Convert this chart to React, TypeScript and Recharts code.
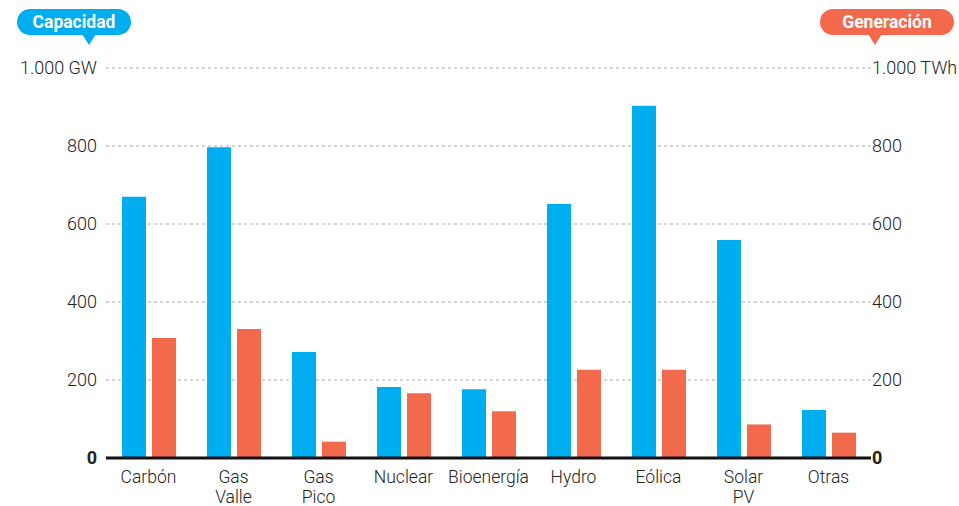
import { BarChart, Bar, XAxis, YAxis, CartesianGrid, ReferenceLine } from 'recharts';

const categories = ['Carbón', 'Gas Valle', 'Gas Pico', 'Nuclear', 'Bioenergía', 'Hydro', 'Eólica', 'Solar PV', 'Otras'];
const capacityGW = [670, 797, 272, 182, 176, 651, 903, 559, 123];
const generationTWh = [308, 331, 42, 166, 120, 226, 226, 86, 65];
const yTicks = [0, 200, 400, 600, 800, 1000];

const BLUE = '#00aeef';
const ORANGE = '#f2694b';
const TEXT = '#222';
const FONT = 'Roboto, "Noto Sans", sans-serif';

const data = categories.map((name, i) => ({
  name,
  capacity: capacityGW[i],
  generation: generationTWh[i],
}));

function formatTick(v: number, unit: string) {
  if (v === 1000) return `1.000 ${unit}`;
  return String(v);
}

function LeftTick(props: any) {
  const { x, y, payload } = props;
  const v = payload.value;
  return (
    <text x={x} y={y} dy="0.36em" textAnchor="end" fontSize={18} fill={TEXT}
      fontWeight={v === 0 ? 700 : 300} fontFamily={FONT}>
      {formatTick(v, 'GW')}
    </text>
  );
}

function RightTick(props: any) {
  const { x, y, payload } = props;
  const v = payload.value;
  return (
    <text x={x} y={y} dy="0.36em" textAnchor="start" fontSize={18} fill={TEXT}
      fontWeight={v === 0 ? 700 : 300} fontFamily={FONT}>
      {formatTick(v, 'TWh')}
    </text>
  );
}

function CategoryTick(props: any) {
  const { x, y, payload } = props;
  const lines = String(payload.value).split(' ');
  return (
    <text x={x} y={y} textAnchor="middle" fontSize={17.5} fill={TEXT} fontWeight={300} fontFamily={FONT}>
      {lines.map((line, i) => (
        <tspan key={i} x={x} dy={i === 0 ? '0.9em' : '1.17em'}>{line}</tspan>
      ))}
    </text>
  );
}

function Badge({ label, color, left, width, pointerX }: { label: string; color: string; left: number; width: number; pointerX: number }) {
  return (
    <div style={{ position: 'absolute', left, top: 9, width, height: 26 }}>
      <div style={{
        background: color, color: '#fff', borderRadius: 13, height: 26, lineHeight: '26px',
        textAlign: 'center', fontFamily: FONT, fontWeight: 700, fontSize: 17.5,
      }}>
        {label}
      </div>
      <div style={{
        position: 'absolute', left: pointerX - 7, top: 25, width: 0, height: 0,
        borderLeft: '7px solid transparent', borderRight: '7px solid transparent',
        borderTop: `11px solid ${color}`,
      }} />
    </div>
  );
}

export default function App() {
  return (
    <div style={{ position: 'absolute', left: 0, top: 0, width: 959, height: 506, background: '#fff' }}>
      <BarChart width={959} height={506} data={data}
        margin={{ top: 68, right: 0, bottom: 0, left: 0 }}
        barSize={24} barGap={6}>
        <CartesianGrid vertical={false} stroke="#aaa" strokeDasharray="3 3" yAxisId="left" />
        <XAxis dataKey="name" height={48} axisLine={false} tickLine={false} tickSize={0} tickMargin={9}
          interval={0} tick={<CategoryTick />} />
        <YAxis yAxisId="left" orientation="left" width={106} domain={[0, 1000]} ticks={yTicks}
          axisLine={false} tickLine={false} tickSize={0} tickMargin={9} tick={<LeftTick />} />
        <YAxis yAxisId="right" orientation="right" width={88} domain={[0, 1000]} ticks={yTicks}
          axisLine={false} tickLine={false} tickSize={0} tickMargin={1} tick={<RightTick />} />
        <Bar yAxisId="left" dataKey="capacity" fill={BLUE} isAnimationActive={false} />
        <Bar yAxisId="right" dataKey="generation" fill={ORANGE} isAnimationActive={false} />
        <ReferenceLine yAxisId="left" y={0} stroke="#111" strokeWidth={3} />
      </BarChart>
      <Badge label="Capacidad" color={BLUE} left={17} width={114} pointerX={72} />
      <Badge label="Generación" color={ORANGE} left={820} width={134} pointerX={55} />
    </div>
  );
}
